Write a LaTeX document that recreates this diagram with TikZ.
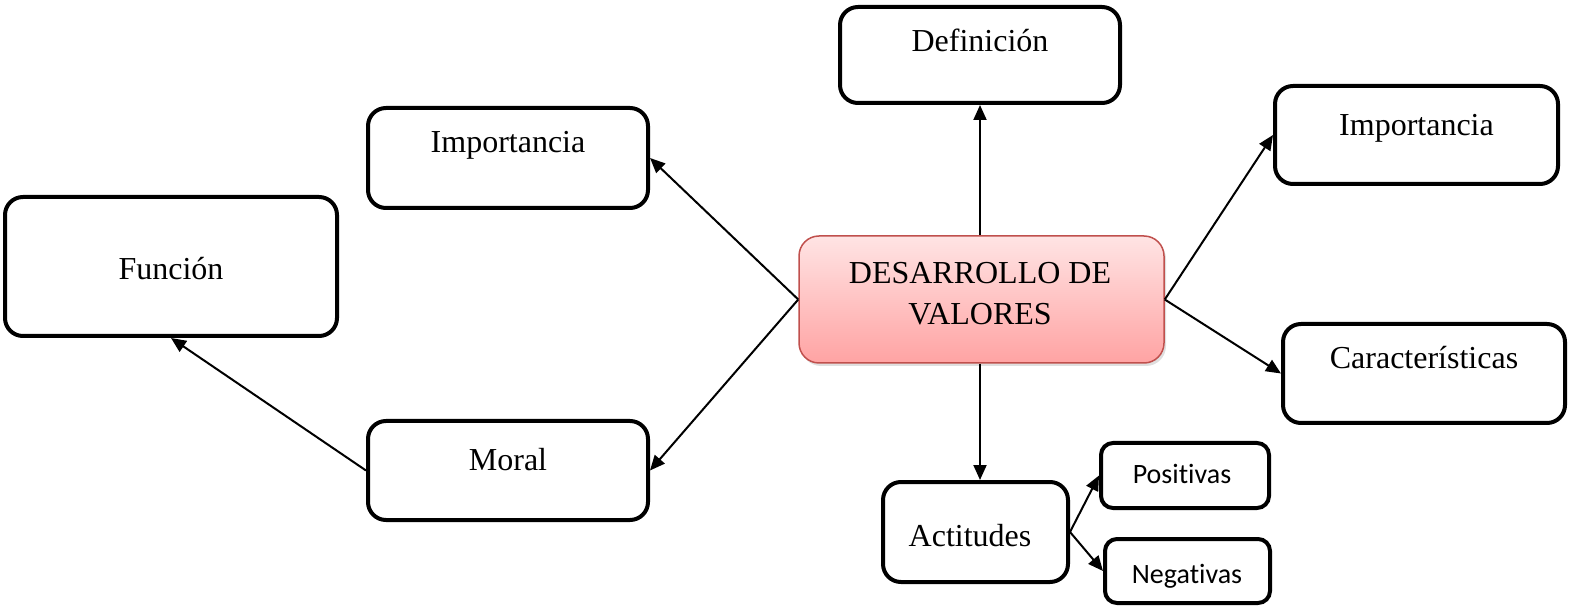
\documentclass[tikz,border=0pt]{standalone}
\usepackage{fontspec}
\setmainfont{Liberation Serif}
\newfontfamily\calib[Ligatures=NoCommon]{Carlito}
\usetikzlibrary{arrows.meta,shadows}
\begin{document}
\begin{tikzpicture}[x=1pt,y=-1pt,
  boxs/.style={draw,line width=4pt,rounded corners=18pt,fill=white,inner sep=0pt},
  smallbox/.style={draw,line width=4pt,rounded corners=12pt,fill=white,inner sep=0pt},
  txt/.style={anchor=base,inner sep=0pt,font=\fontsize{32}{38}\selectfont},
  stxt/.style={anchor=base,inner sep=0pt,font=\calib\fontsize{28}{32}\selectfont},
  arr/.style={line width=2pt,-{Triangle[length=15pt,width=13pt]}}]
\definecolor{ptop}{RGB}{255,228,228}
\definecolor{pbot}{RGB}{255,163,163}
\definecolor{pborder}{RGB}{192,80,77}
\useasboundingbox (0,0) rectangle (1572,609);
% boxes
\node[boxs,minimum width=280pt,minimum height=96pt] (def) at (980,55) {};
\node[boxs,minimum width=280pt,minimum height=100pt] (impL) at (508,158) {};
\node[boxs,minimum width=332pt,minimum height=139pt] (fun) at (171,266.5) {};
\node[boxs,minimum width=280pt,minimum height=99pt] (mor) at (508,470.5) {};
\node[boxs,minimum width=283pt,minimum height=98pt] (impR) at (1416.5,135) {};
\node[boxs,minimum width=282pt,minimum height=99pt] (car) at (1424,373.5) {};
\node[boxs,minimum width=185pt,minimum height=100pt] (act) at (975.5,532) {};
\node[smallbox,minimum width=168pt,minimum height=65pt] (pos) at (1185,475.5) {};
\node[smallbox,minimum width=165pt,minimum height=64pt] (neg) at (1187.5,571) {};
\node[draw=pborder,line width=1.5pt,rounded corners=20pt,top color=ptop,bottom color=pbot,
  drop shadow={opacity=0.25,shadow xshift=2pt,shadow yshift=-3pt},
  minimum width=365pt,minimum height=127pt,inner sep=0pt] (cen) at (981.5,299.5) {};
% texts
\node[txt] (tdef) at (980,52) {Definición};
\node[txt] (timpL) at (508,153) {Importancia};
\node[txt] (tfun) at (171,280) {Función};
\node[txt] (tmor) at (508,471) {Moral};
\node[txt] (timpR) at (1416.5,136) {Importancia};
\node[txt] (tcar) at (1424,369) {Características};
\node[txt] (tact) at (970,546) {Actitudes};
\node[txt] (tc1) at (980,284) {DESARROLLO DE};
\node[txt] (tc2) at (980,325) {VALORES};
\node[stxt] (tpos) at (1182,483) {Positivas};
\node[stxt] (tneg) at (1187,583) {Negativas};
% connector end points
\coordinate (cn) at (cen.north -| def.south);
\coordinate (cs) at (cen.south -| def.south);
\coordinate (an) at (act.north -| def.south);
% connectors
\draw[arr] (cn) -- (def.south);
\draw[arr] (cen.west) -- (impL.east);
\draw[arr] (cen.west) -- (mor.east);
\draw[arr] (mor.west) -- (fun.south);
\draw[arr] (cen.east) -- (impR.west);
\draw[arr] (cen.east) -- (car.west);
\draw[arr] (cs) -- (an);
\draw[arr] (act.east) -- (pos.west);
\draw[arr] (act.east) -- (neg.west);
\end{tikzpicture}
\end{document}
